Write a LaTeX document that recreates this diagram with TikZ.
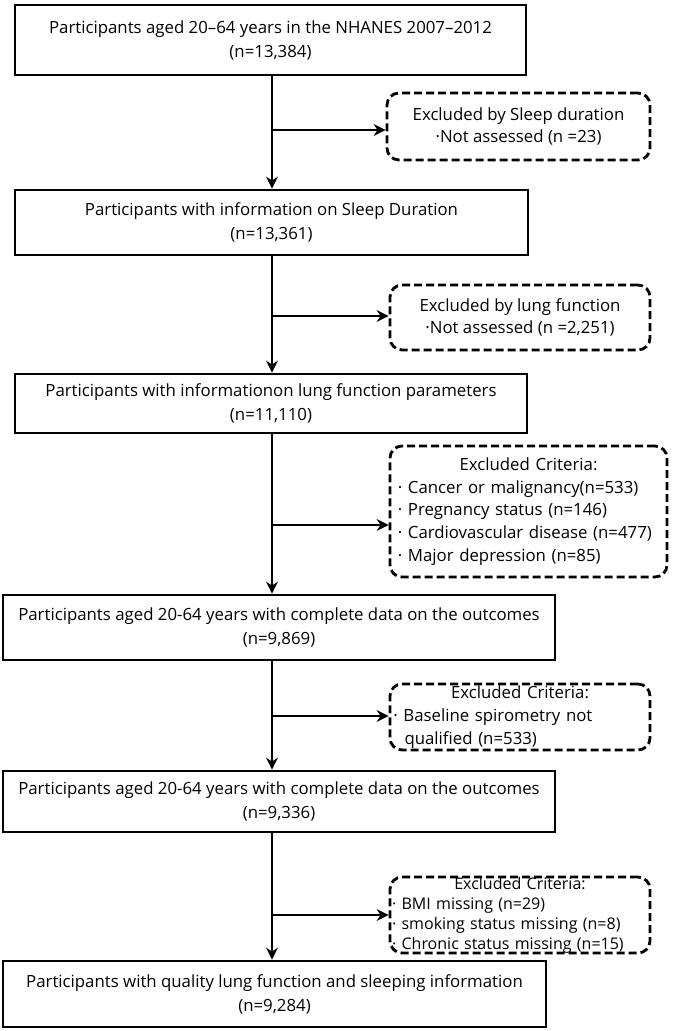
\documentclass[tikz,border=0pt]{standalone}
\usepackage{fontspec}
\setmainfont{Open Sans}
\usetikzlibrary{arrows.meta}
\begin{document}
\begin{tikzpicture}[x=0.75pt,y=-0.75pt,
  stage/.style={draw,line width=2.1pt,align=center,inner sep=0pt,font=\fontsize{12.6}{18}\selectfont},
  excl/.style={draw,line width=2.1pt,dashed,dash pattern=on 6pt off 3pt,rounded corners=9pt,inner sep=0pt,font=\fontsize{12.6}{17}\selectfont},
  arr/.style={line width=2.1pt,-{Stealth[length=9pt,width=9pt]}}]
  \useasboundingbox (0,0) rectangle (685,1031);

  %main steps
  \node[stage,minimum width=383.25pt,minimum height=52.5pt] (s1) at (270.5,40)
    {Participants aged 20–64 years in the NHANES 2007–2012\\(n=13,384)};
  \node[stage,minimum width=384.75pt,minimum height=48.75pt] (s2) at (271.5,222.5)
    {Participants with information on Sleep Duration\\(n=13,361)};
  \node[stage,minimum width=384pt,minimum height=44.25pt] (s3) at (271,403.5)
    {Participants with informationon lung function parameters\\(n=11,110)};
  \node[stage,minimum width=414pt,minimum height=48.75pt] (s4) at (279,627.5)
    {Participants aged 20-64 years with complete data on the outcomes\\(n=9,869)};
  \node[stage,minimum width=414pt,minimum height=45.75pt] (s5) at (279,801.5)
    {Participants aged 20-64 years with complete data on the outcomes\\(n=9,336)};
  \node[stage,minimum width=407.25pt,minimum height=49.5pt] (s6) at (274.5,994)
    {Participants with quality lung function and sleeping information\\(n=9,284)};

  %exclusions
  \node[excl,minimum width=197.25pt,minimum height=50.25pt,align=center] (e1) at (518.5,126.5)
    {Excluded by Sleep duration\\·Not assessed (n =23)};
  \node[excl,minimum width=195pt,minimum height=48.75pt,align=center] (e2) at (520,317.5)
    {Excluded by lung function\\·Not assessed (n =2,251)};
  \node[excl,minimum width=207.75pt,minimum height=98.25pt,text width=196pt,align=left] (e3) at (528.5,511.5)
    {\hfill Excluded Criteria:\hfill\mbox{}\\
     · Cancer or malignancy(n=533)\\
     · Pregnancy status (n=146)\\
     · Cardiovascular disease (n=477)\\
     · Major depression (n=85)};
  \node[excl,minimum width=195pt,minimum height=49.5pt,text width=190pt,align=left] (e4) at (520,717)
    {\hfill Excluded Criteria:\hfill\mbox{}\\
     · Baseline spirometry not\\
     \ \ qualified (n=533)};
  \node[excl,minimum width=195pt,minimum height=49.5pt,text width=192pt,align=left,font=\fontsize{12}{15}\selectfont] (e5) at (520,915)
    {\hfill Excluded Criteria:\hfill\mbox{}\\
     · BMI missing (n=29)\\
     · smoking status missing (n=8)\\
     · Chronic status missing (n=15)};

  %spine
  \draw[arr] (s1.south -| 272,0) -- (s2.north -| 272,0);
  \draw[arr] (s2.south -| 272,0) -- (s3.north -| 272,0);
  \draw[arr] (s3.south -| 272,0) -- (s4.north -| 272,0);
  \draw[arr] (s4.south -| 272,0) -- (s5.north -| 272,0);
  \draw[arr] (s5.south -| 272,0) -- (s6.north -| 272,0);

  %branches
  \draw[arr] (272,130) -- (e1.west |- 0,130);
  \draw[arr] (272,316) -- (e2.west |- 0,316);
  \draw[arr] (272,525) -- (e3.west |- 0,525);
  \draw[arr] (272,716) -- (e4.west |- 0,716);
  \draw[arr] (272,915) -- (e5.west |- 0,915);
\end{tikzpicture}
\end{document}
